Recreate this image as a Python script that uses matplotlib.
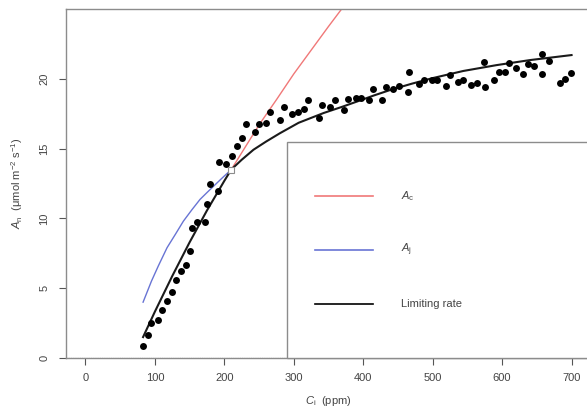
import matplotlib
matplotlib.use("Agg")
import matplotlib.pyplot as plt
import numpy as np
from matplotlib.patches import Rectangle
from matplotlib.lines import Line2D

# Measured A/Ci points
ci = [83, 90, 95, 105, 110, 117.5, 124, 130, 137, 145, 150, 153.5, 161, 171.6,
      175, 180, 191, 193, 202, 211, 217.6, 226, 230.6, 244, 250, 260, 266,
      279.5, 285.7, 297.7, 306, 315, 321, 336.5, 341, 352, 359.6, 372.5,
      378.7, 389, 397, 408.5, 414, 427, 433, 443, 451.6, 464, 466, 480,
      487.6, 498.6, 506, 518.7, 525, 536.5, 544, 555, 564, 574, 575, 589,
      595, 604, 610, 620, 629.5, 636.7, 645.8, 656.8, 658, 667.8, 683, 691,
      698.5]
an = [0.88, 1.67, 2.5, 2.7, 3.47, 4.06, 4.75, 5.56, 6.2, 6.68, 7.63, 9.3,
      9.74, 9.74, 11.05, 12.47, 11.98, 14.07, 13.93, 14.45, 15.18, 15.78,
      16.75, 16.2, 16.75, 16.85, 17.65, 17.03, 17.99, 17.51, 17.63, 17.82,
      18.46, 17.2, 18.1, 17.99, 18.5, 17.73, 18.56, 18.6, 18.6, 18.46, 19.27,
      18.46, 19.44, 19.27, 19.49, 19.03, 20.46, 19.65, 19.94, 19.89, 19.94,
      19.49, 20.27, 19.77, 19.94, 19.56, 19.72, 21.2, 19.39, 19.89, 20.5,
      20.5, 21.15, 20.77, 20.36, 21.05, 20.91, 20.36, 21.79, 21.31, 19.7,
      20.0, 20.43]

# Rubisco-limited curve (Ac)
ac_ci = [83, 100, 125, 150, 175, 200, 210, 230, 250, 275, 300, 325, 350, 375]
ac = [1.5, 3.32, 5.87, 8.29, 10.57, 12.69, 13.5, 15.1, 16.7, 18.5, 20.35,
      22.05, 23.75, 25.4]

# RuBP-regeneration-limited curve (Aj)
aj_ci = [83, 95, 105, 117.5, 130, 141, 153, 165, 175, 185, 197, 210, 225, 242,
         260, 280, 307, 325, 343, 370, 391, 415, 439, 470, 500, 544, 592, 640,
         700]
aj = [4.0, 5.5, 6.6, 7.9, 8.9, 9.8, 10.6, 11.36, 11.85, 12.33, 12.9, 13.5,
      14.2, 14.92, 15.5, 16.1, 16.85, 17.2, 17.55, 18.0, 18.37, 18.8, 19.2,
      19.65, 20.05, 20.56, 20.98, 21.34, 21.7]

ci_trans = 210
a_trans = 13.5

legend_labels = [r"$\mathit{A}_\mathrm{c}$", r"$\mathit{A}_\mathrm{j}$", "Limiting rate"]

plt.rcParams['font.family'] = ['Liberation Sans', 'DejaVu Sans']
plt.rcParams['mathtext.fontset'] = 'custom'
plt.rcParams['mathtext.rm'] = 'Liberation Sans'
plt.rcParams['mathtext.it'] = 'Liberation Sans:italic'

red = '#f07878'
blue = '#6874d4'
grey = '#8c8c8c'
txt = '#444444'

fig = plt.figure(figsize=(5.87, 4.18), dpi=100)
ax = fig.add_axes([66/587, 60/418, 525/587, 349/418])

ac_ci = np.array(ac_ci); ac = np.array(ac)
aj_ci = np.array(aj_ci); aj = np.array(aj)

# limiting rate: Ac below the transition, Aj above
lim_ci = np.concatenate([ac_ci[ac_ci <= ci_trans], aj_ci[aj_ci > ci_trans]])
lim_a = np.concatenate([ac[ac_ci <= ci_trans], aj[aj_ci > ci_trans]])

ax.plot(ac_ci[ac_ci >= ci_trans], ac[ac_ci >= ci_trans], color=red, lw=1.0)
ax.plot(aj_ci[aj_ci <= ci_trans], aj[aj_ci <= ci_trans], color=blue, lw=1.0)
ax.plot(lim_ci, lim_a, color='#1a1a1a', lw=1.5, solid_joinstyle='round')
ax.plot(ci, an, 'o', color='black', ms=5, mew=0)
ax.plot([ci_trans], [a_trans], 's', mfc='white', mec=grey, ms=4, mew=0.8)
ax.axhline(0, color='#333333', lw=0.8, ls=(0, (1, 1)))

ax.set_xlim(-28, 728)
ax.set_ylim(0, 25)
ax.set_xticks(range(0, 701, 100))
ax.set_yticks(range(0, 21, 5))
for s in ax.spines.values():
    s.set_color(grey)
    s.set_linewidth(1.0)
ax.tick_params(axis='both', colors='#555555', labelcolor=txt, labelsize=8,
               length=5, width=0.8)
ax.tick_params(axis='x', pad=6)
ax.tick_params(axis='y', pad=7)
for lab in ax.get_yticklabels():
    lab.set_rotation(90)
    lab.set_va('center')

ax.set_xlabel(r"$\mathit{C}_\mathrm{i}$  (ppm)", fontsize=8, color=txt, labelpad=8)
ax.set_ylabel(r"$\mathit{A}_\mathrm{n}$  ($\mathrm{\mu}$mol m$^{-2}$ s$^{-1}$)",
              fontsize=8, color=txt, labelpad=10)

# legend box, drawn by hand so it can run off the right edge like the original
box = Rectangle((0.421, 0.0), 0.7, 0.619, transform=ax.transAxes,
                facecolor='white', edgecolor=grey, lw=1.0, zorder=5, clip_on=False)
ax.add_patch(box)
ys = [0.464, 0.309, 0.155]
cols = [red, blue, 'black']
for y, c, lab in zip(ys, cols, legend_labels):
    ax.add_line(Line2D([0.474, 0.585], [y, y], transform=ax.transAxes,
                       color=c, lw=1.2, zorder=6))
    ax.text(0.639, y, lab, transform=ax.transAxes, fontsize=8, color=txt,
            va='center', ha='left', zorder=6)

fig.savefig('out.png', dpi=100)
